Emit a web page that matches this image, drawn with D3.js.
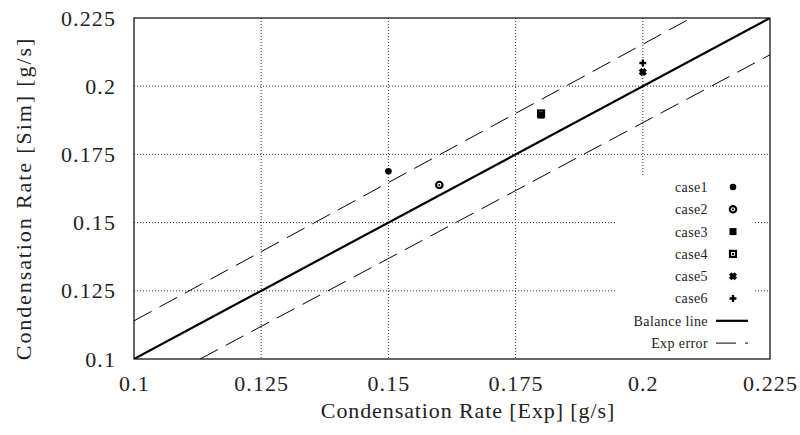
<!DOCTYPE html>
<html>
<head>
<meta charset="utf-8">
<script src="https://cdn.jsdelivr.net/npm/d3@7"></script>
<style>
  body { margin: 0; background: #fff; }
  text { font-family: "Liberation Serif", "Times New Roman", serif; fill: #222; }
  .grid line { stroke: #333; stroke-width: 1; stroke-dasharray: 1,2; }
</style>
</head>
<body>
<svg id="chart" width="800" height="435"></svg>
<script>
// data
var caseNames = ["case1", "case2", "case3", "case4", "case5", "case6"];
var expRate = [0.15, 0.16, 0.18, 0.18, 0.2, 0.2];
var simRate = [0.1688, 0.1638, 0.1894, 0.1900, 0.2052, 0.2085];
var tickValues = [0.1, 0.125, 0.15, 0.175, 0.2, 0.225];
var tickLabels = ["0.1", "0.125", "0.15", "0.175", "0.2", "0.225"];
var balanceLine = [[0.1, 0.1], [0.225, 0.225]];
var errUpper = [[0.1, 0.114], [0.2095, 0.225]];
var errLower = [[0.113, 0.1], [0.225, 0.2115]];

var svg = d3.select("#chart");
var margin = {left: 134, right: 30, top: 18, bottom: 76};
var W = 800 - margin.left - margin.right, H = 435 - margin.top - margin.bottom;

var x = d3.scaleLinear().domain([0.1, 0.225]).range([0, W]);
var y = d3.scaleLinear().domain([0.1, 0.225]).range([H, 0]);

var g = svg.append("g").attr("transform", "translate(" + margin.left + "," + margin.top + ")");

// legend box geometry (box hides grid behind it)
var leg = {x0: 483, x1: 621, y0: 158, y1: H};

// grid
var grid = g.append("g").attr("class", "grid");
tickValues.slice(1, -1).forEach(function (v) {
    grid.append("line").attr("x1", x(v)).attr("x2", x(v)).attr("y1", 0).attr("y2", H);
    grid.append("line").attr("x1", 0).attr("x2", W).attr("y1", y(v)).attr("y2", y(v));
});
g.append("rect").attr("x", leg.x0).attr("y", leg.y0)
    .attr("width", leg.x1 - leg.x0).attr("height", leg.y1 - leg.y0).attr("fill", "#fff");

// axes
var xAxis = g.append("g").attr("transform", "translate(0," + H + ")")
    .call(d3.axisBottom(x).tickValues(tickValues).tickSize(0).tickPadding(16)
        .tickFormat(function (d, i) { return tickLabels[i]; }));
var yAxis = g.append("g")
    .call(d3.axisLeft(y).tickValues(tickValues).tickSize(0).tickPadding(18)
        .tickFormat(function (d, i) { return tickLabels[i]; }));
[xAxis, yAxis].forEach(function (a) {
    a.select(".domain").remove();
    a.selectAll("text").attr("font-family", null).attr("font-size", 22).style("letter-spacing", "1.1px").attr("fill", "#222");
});

// lines
var line = d3.line().x(function (d) { return x(d[0]); }).y(function (d) { return y(d[1]); });
var clip = g.append("clipPath").attr("id", "clip");
clip.append("rect").attr("width", W).attr("height", H);
var lines = g.append("g").attr("clip-path", "url(#clip)");
lines.append("path").datum(balanceLine).attr("d", line)
    .attr("stroke", "#000").attr("stroke-width", 2.2).attr("fill", "none");
[errUpper, errLower].forEach(function (l) {
    lines.append("path").datum(l).attr("d", line)
        .attr("stroke", "#000").attr("stroke-width", 1).attr("fill", "none")
        .attr("stroke-dasharray", "20,9");
});

// markers
function marker(sel, i) {
    if (i === 0) {
        sel.append("circle").attr("r", 3.3).attr("fill", "#000");
    } else if (i === 1) {
        sel.append("circle").attr("r", 3.2).attr("fill", "#fff").attr("stroke", "#000").attr("stroke-width", 2.2);
        sel.append("circle").attr("r", 1).attr("fill", "#000");
    } else if (i === 2) {
        sel.append("rect").attr("x", -3.5).attr("y", -3.5).attr("width", 7).attr("height", 7).attr("fill", "#000");
    } else if (i === 3) {
        sel.append("rect").attr("x", -3).attr("y", -3).attr("width", 6).attr("height", 6)
            .attr("fill", "#fff").attr("stroke", "#000").attr("stroke-width", 2.2);
        sel.append("rect").attr("x", -1).attr("y", -1).attr("width", 2).attr("height", 2).attr("fill", "#000");
    } else if (i === 4) {
        sel.append("path").attr("d", d3.symbol(d3.symbolX, 22)()).attr("stroke", "#000").attr("stroke-width", 3.6);
    } else {
        sel.append("path").attr("d", d3.symbol(d3.symbolCross, 26)()).attr("fill", "#000");
    }
}
// drawn last-first so the filled square sits over the hollow one
caseNames.map(function (n, i) { return i; }).reverse().forEach(function (i) {
    var p = g.append("g").attr("transform", "translate(" + x(expRate[i]) + "," + y(simRate[i]) + ")");
    marker(p, i);
});

// frame
g.append("rect").attr("width", W).attr("height", H).attr("fill", "none")
    .attr("stroke", "#000").attr("stroke-width", 1.2);

// legend
var legRows = caseNames.concat(["Balance line", "Exp error"]);
var legend = g.append("g");
legRows.forEach(function (name, i) {
    var ry = 169 + i * 22.3;
    legend.append("text").attr("x", 574).attr("y", ry).attr("dy", "0.35em")
        .attr("text-anchor", "end").attr("font-size", 14).attr("fill", "#333")
        .style("letter-spacing", "0.4px").text(name);
    if (i < 6) {
        marker(legend.append("g").attr("transform", "translate(599," + ry + ")"), i);
    } else {
        legend.append("line").attr("x1", 582).attr("x2", 614).attr("y1", ry).attr("y2", ry)
            .attr("stroke", "#000").attr("stroke-width", i === 6 ? 2.2 : 1)
            .attr("stroke-dasharray", i === 6 ? null : "20,9");
    }
});

// axis titles
svg.append("text").attr("x", margin.left + W / 2 + 16).attr("y", 418).attr("text-anchor", "middle")
    .attr("font-size", 22).style("letter-spacing", "0.9px").text("Condensation Rate [Exp] [g/s]");
svg.append("text").attr("transform", "translate(31," + (margin.top + H / 2 + 10) + ") rotate(-90)")
    .attr("text-anchor", "middle").attr("font-size", 22).style("letter-spacing", "1.9px")
    .text("Condensation Rate [Sim] [g/s]");
</script>
</body>
</html>
